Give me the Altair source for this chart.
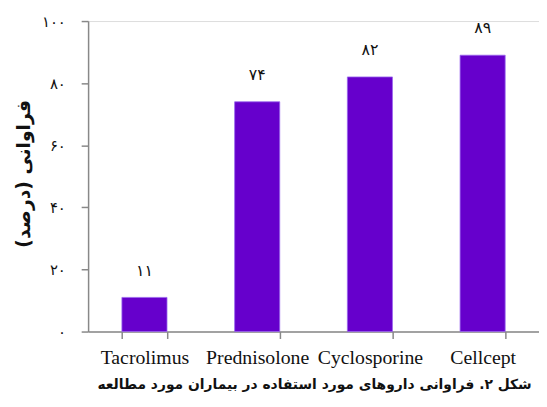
import altair as alt
import pandas as pd

drugs = ["Tacrolimus", "Prednisolone", "Cyclosporine", "Cellcept"]
values = [11, 74, 82, 89]
value_labels = ["۱۱", "۷۴", "۸۲", "۸۹"]
y_ticks = [0, 20, 40, 60, 80, 100]
y_tick_labels = ["۰", "۲۰", "۴۰", "۶۰", "۸۰", "۱۰۰"]
y_title = "فراوانی (درصد)"
caption = "شکل ۲. فراوانی داروهای مورد استفاده در بیماران مورد مطالعه"

df = pd.DataFrame({"drug": drugs, "value": values, "label": value_labels})

label_expr = " : ".join(
    f"datum.value == {v} ? '{l}'" for v, l in zip(y_ticks, y_tick_labels)
) + " : ''"

persian_font = "DejaVu Sans"

x = alt.X(
    "drug:N",
    sort=drugs,
    scale=alt.Scale(paddingInner=0.6, paddingOuter=0.3),
    axis=alt.Axis(
        title=None,
        labelAngle=0,
        labelFont="Liberation Serif",
        labelFontSize=20,
        labelColor="#111",
        labelPadding=9,
        tickBand="extent",
        tickSize=7,
        domainColor="#888",
        tickColor="#888",
        domainWidth=1.5,
        tickWidth=1.5,
    ),
)

y = alt.Y(
    "value:Q",
    scale=alt.Scale(domain=[0, 100]),
    axis=alt.Axis(
        values=y_ticks,
        labelExpr=label_expr,
        title=y_title,
        titleFont=persian_font,
        titleFontSize=19,
        titleFontWeight="bold",
        titleColor="#111",
        titlePadding=8,
        titleY=154,
        labelFont=persian_font,
        labelFontSize=15,
        labelColor="#111",
        labelPadding=16,
        tickSize=7,
        grid=False,
        domainColor="#888",
        tickColor="#888",
        domainWidth=1.5,
        tickWidth=1.5,
    ),
)

bars = alt.Chart(df).mark_bar(color="#6600CC", stroke="#9966EE", strokeWidth=0.8).encode(x=x, y=y)

text = alt.Chart(df).mark_text(
    baseline="bottom", dy=-19, font=persian_font, fontSize=16, color="#111"
).encode(x=alt.X("drug:N", sort=drugs), y="value:Q", text="label:N")

chart = (
    alt.layer(bars, text)
    .properties(
        width=456,
        height=314,
        padding={"left": 81, "top": 11, "right": 0, "bottom": 66},
        autosize=alt.AutoSizeParams(type="none"),
        title=alt.TitleParams(
            text=caption,
            orient="bottom",
            anchor="middle",
            font=persian_font,
            fontSize=14,
            fontWeight="bold",
            color="#111",
            offset=11,
            dx=1,
        ),
    )
    .configure_view(stroke=None)
    .configure(background="white")
)

chart.save("out.html", embed_options={"renderer": "svg", "actions": False})
